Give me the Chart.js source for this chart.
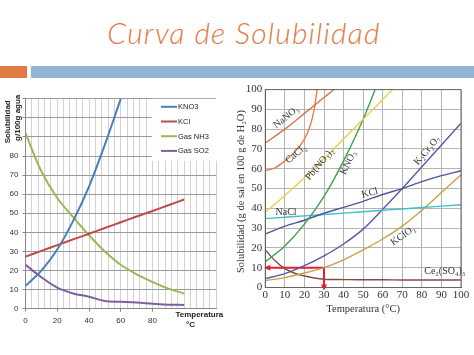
<!DOCTYPE html>
<html><head><meta charset="utf-8">
<script src="https://cdn.jsdelivr.net/npm/chart.js@4"></script>
<style>
html,body{margin:0;padding:0;background:#fff;width:474px;height:355px;overflow:hidden;position:relative}
#title{position:absolute;left:0;width:488px;top:14px;text-align:center;font:italic 300 30px Lato,'Open Sans',sans-serif;color:#e07a45;line-height:36px;letter-spacing:1.2px;white-space:nowrap}
#barO{position:absolute;left:0;top:66px;width:27px;height:12px;background:#e07b45}
#barB{position:absolute;left:31px;top:66px;width:443px;height:12px;background:#93b4d6}
#c1{position:absolute;left:0;top:90px}
#c2{position:absolute;left:236px;top:80px}
</style></head>
<body>
<div id="title">Curva de Solubilidad</div>
<div id="barO"></div><div id="barB"></div>
<canvas id="c1" width="240" height="265"></canvas>
<canvas id="c2" width="238" height="240"></canvas>
<script>
// ---------- Left chart data ----------
const leftTemps = [0,10,20,30,40,50,60,70,80,90,100];
const kno3LeftTemps = [0,10,20,30,40,50,60];
const kno3Left = [12,20,31,46,64,86,110];
const kclLeft  = [27.3,30.3,33.3,36.3,39.3,42.3,45.3,48.3,51.2,54.2,57.2];
const nh3Left  = [92,72,58,48,38.5,30,23,18,14,10.5,8];
const so2Left  = [23,16.5,11,8,6.3,4,3.6,3.2,2.6,2.1,2];
const leftNames = ['KNO3','KCl','Gas NH3','Gas SO2'];
const leftXTickLabels = [0,20,40,60,80];
const leftYTickLabels = [0,10,20,30,40,50,60,70,80];

// ---------- Right chart data ----------
const rTemps = [0,10,20,30,40,50,60,70,80,90,100];
const nano3T = [0,10,20,30,40];          const nano3 = [73,80,88,96,104];
const cacl2T = [0,5,10,15,20,23,25,27];  const cacl2 = [59,60.5,64,68.5,75,82,90,104];
const pbT    = [0,10,20,30,40,50,60,70]; const pbno3 = [38,46.5,55.5,65,75,85,95,105];
const kno3T  = [0,10,20,30,40,50,60];    const kno3R = [13,21,32,46,64,85,110];
const kclR   = [27,31,34,37.5,40.5,43.5,47,50,53.5,56.5,59];
const naclR  = [34.8,35.5,36.2,36.9,37.6,38.3,39,39.7,40.4,41.1,41.8];
const k2cr2o7 = [4.5,7,11,16,22,29.5,39.5,50,61,72,83];
const kclo3  = [3.5,5,7.3,10,14,19,24.5,31,39,48,57];
const ceT    = [0,5,10,15,20,25,30,40,50,60,70,80,90,100];
const ce2so4 = [19,13.5,9.5,7.2,5.8,4.8,4.2,4,3.9,3.9,3.8,3.8,3.8,3.8];
const readTemp = 30, readSol = 10;
const rightNames = ['NaNO₃','CaCl₂','Pb(NO₃)₂','KNO₃','KCl','NaCl','K₂Cr₂O₇','KClO₃','Ce₂(SO₄)₃'];
const labelT = [10.7,15.7,27.9,42.4,53.4,10.6,82.7,70.4,91.7];
const labelS = [86,67.4,62.3,63,47.7,38.2,69.2,26.2,8.1];
const labelAngle = [-38,-40,-50,-65,-15,0,-50,-35,0];

const pts = (xs, ys) => xs.map((x,i)=>({x, y: ys[i]}));

// ---------- Left chart ----------
const leftColors = ['#4a7ebb','#be4b48','#98b954','#7d60a0'];
const leftSeries = [pts(kno3LeftTemps,kno3Left), pts(leftTemps,kclLeft), pts(leftTemps,nh3Left), pts(leftTemps,so2Left)];
const sansF = "'Liberation Sans', Arial, sans-serif";

const leftPlugin = {
  id:'leftDeco',
  afterDraw(chart){
    const ctx = chart.ctx, a = chart.chartArea;
    ctx.save();
    const bx = a.right - 64, by = a.top, bw = 66, bh = 62;
    ctx.fillStyle = '#fff';
    ctx.fillRect(bx, by, bw, bh);
    ctx.font = '7.5px ' + sansF;
    ctx.textBaseline = 'middle';
    chart.data.datasets.forEach((ds,i)=>{
      const y = by + 8 + i*14.7;
      ctx.strokeStyle = ds.borderColor; ctx.lineWidth = 2;
      ctx.beginPath(); ctx.moveTo(bx+9, y); ctx.lineTo(bx+25, y); ctx.stroke();
      ctx.fillStyle = '#222'; ctx.textAlign='left';
      ctx.fillText(ds.label, bx+26, y+0.5);
    });
    ctx.fillStyle = '#222';
    ctx.font = 'bold 8px ' + sansF;
    ctx.textAlign = 'center';
    ctx.save(); ctx.translate(8, a.top + 23); ctx.rotate(-Math.PI/2);
    ctx.fillText('Solubilidad', 0, 0); ctx.restore();
    ctx.save(); ctx.translate(18, a.top + 19); ctx.rotate(-Math.PI/2);
    ctx.fillText('g/100g agua', 0, 0); ctx.restore();
    const xs = chart.scales.x;
    ctx.fillText('Temperatura', xs.getPixelForValue(109.5), a.bottom + 6.5);
    ctx.fillText('°C', xs.getPixelForValue(104), a.bottom + 16);
    ctx.restore();
  }
};

new Chart(document.getElementById('c1'), {
  type:'line',
  data:{ datasets: leftSeries.map((d,i)=>({label:leftNames[i], data:d, borderColor:leftColors[i], backgroundColor:leftColors[i], borderWidth:2, pointRadius:0, tension:0.35, fill:false})) },
  options:{
    responsive:false, animation:false, devicePixelRatio:1,
    layout:{padding:{top:6,right:24,left:0,bottom:0}},
    plugins:{legend:{display:false}, tooltip:{enabled:false}},
    scales:{
      x:{type:'linear', min:0, max:120,
        afterFit(s){ s.height = 46.3; },
        ticks:{stepSize:4, autoSkip:false, maxRotation:0, padding:4, color:'#333', font:{family:sansF, size:8},
          callback:(v)=> leftXTickLabels.includes(v) ? String(v) : ''},
        grid:{color:'#d2d2d2', lineWidth:1, tickLength:3, tickColor:(c)=> (c.tick && leftXTickLabels.includes(c.tick.value)) ? '#888' : 'rgba(0,0,0,0)'},
        border:{color:'#888'}},
      y:{min:0, max:110,
        afterFit(s){ s.width = 25.5; },
        ticks:{stepSize:10, padding:4, color:'#333', font:{family:sansF, size:8},
          callback:(v)=> leftYTickLabels.includes(v) ? String(v) : ''},
        grid:{color:'#9a9a9a', lineWidth:1, tickLength:3, tickColor:'#888'},
        border:{color:'#888'}}
    }
  },
  plugins:[leftPlugin]
});

// ---------- Right chart ----------
const serifF = "'Liberation Serif','DejaVu Serif',serif";
const rightColors = ['#d9744a','#ea7f45','#e4d24e','#3fa24a','#4a5a9a','#3cc0d2','#5a58a6','#c9a043','#8a4848'];
const rightSeries = [pts(nano3T,nano3), pts(cacl2T,cacl2), pts(pbT,pbno3), pts(kno3T,kno3R), pts(rTemps,kclR), pts(rTemps,naclR), pts(rTemps,k2cr2o7), pts(rTemps,kclo3), pts(ceT,ce2so4)];
const markerData = [{x:0,y:readSol},{x:readTemp,y:readSol},{x:readTemp,y:0}];

const rightPlugin = {
  id:'rightDeco',
  afterDatasetsDraw(chart){
    const ctx = chart.ctx, a = chart.chartArea, xs = chart.scales.x, ys = chart.scales.y;
    ctx.save();
    ctx.strokeStyle = '#666'; ctx.lineWidth = 1;
    ctx.strokeRect(a.left, a.top, a.right-a.left, a.bottom-a.top);
    ctx.fillStyle = '#e3202a';
    const ax = xs.getPixelForValue(0), ay = ys.getPixelForValue(readSol);
    ctx.beginPath(); ctx.moveTo(ax-1, ay); ctx.lineTo(ax+5, ay-3); ctx.lineTo(ax+5, ay+3); ctx.closePath(); ctx.fill();
    const dx = xs.getPixelForValue(readTemp), dy = ys.getPixelForValue(0);
    ctx.beginPath(); ctx.moveTo(dx, dy+3); ctx.lineTo(dx-3, dy-3); ctx.lineTo(dx+3, dy-3); ctx.closePath(); ctx.fill();
    ctx.fillStyle = '#333';
    ctx.font = '10px ' + serifF;
    ctx.textAlign = 'center'; ctx.textBaseline = 'middle';
    rightNames.forEach((n,i)=>{
      ctx.save();
      ctx.translate(xs.getPixelForValue(labelT[i]), ys.getPixelForValue(labelS[i]));
      ctx.rotate(labelAngle[i]*Math.PI/180);
      ctx.fillText(n, 0, 0);
      ctx.restore();
    });
    ctx.font = '10.5px ' + serifF;
    ctx.fillText('Temperatura (°C)', (a.left+a.right)/2, a.bottom + 21.5);
    ctx.save(); ctx.translate(5.5, (a.top+a.bottom)/2 + 3); ctx.rotate(-Math.PI/2);
    ctx.fillText('Solubilidad (g de sal en 100 g de H₂O)', 0, 0); ctx.restore();
    ctx.restore();
  }
};

new Chart(document.getElementById('c2'), {
  type:'line',
  data:{ datasets: rightSeries.map((d,i)=>({label:rightNames[i], data:d, borderColor:rightColors[i], borderWidth:1.4, pointRadius:0, tension:0.4, cubicInterpolationMode:'monotone', fill:false}))
    .concat([{label:'lectura', data:markerData, borderColor:'#e3202a', borderWidth:2, pointRadius:0, tension:0, fill:false}]) },
  options:{
    responsive:false, animation:false, devicePixelRatio:1,
    layout:{padding:{top:8,right:13,left:0,bottom:0}},
    plugins:{legend:{display:false}, tooltip:{enabled:false}},
    scales:{
      x:{type:'linear', min:0, max:100,
        afterFit(s){ s.height = 32.5; },
        ticks:{stepSize:10, autoSkip:false, maxRotation:0, padding:1, color:'#333', font:{family:serifF, size:11}},
        grid:{color:'#b4b4b4', lineWidth:1, drawTicks:false},
        border:{color:'#555'}},
      y:{min:0, max:100,
        afterFit(s){ s.width = 29.3; },
        ticks:{stepSize:10, padding:3, color:'#333', font:{family:serifF, size:11}},
        grid:{color:'#b4b4b4', lineWidth:1, drawTicks:false},
        border:{color:'#555'}}
    }
  },
  plugins:[rightPlugin]
});
</script>
</body></html>
